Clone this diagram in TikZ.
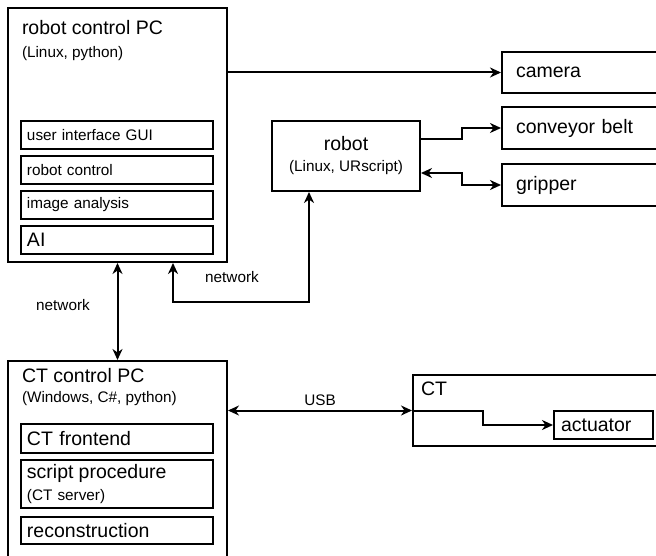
\documentclass[tikz,border=0pt]{standalone}
\usepackage{fontspec}
\setmainfont{Liberation Sans}
\usetikzlibrary{arrows.meta}

\newcommand{\titlefont}{\fontsize{19.5}{22}\selectfont}
\newcommand{\notefont}{\fontsize{15.3}{21}\selectfont}

\tikzset{
  >={Stealth[length=11pt,width=10pt,inset=3.5pt]},
  blk/.style={draw, anchor=north west, inner sep=0pt},
  part/.style={blk, minimum width=192pt, minimum height=28pt, text width=180pt,
    align=left, inner xsep=6pt, font=\notefont},
  dev/.style={blk, minimum height=41pt, text width=170pt, align=left,
    inner xsep=14pt, font=\titlefont},
  head/.style={anchor=base west, inner sep=0pt, font=\titlefont},
  note/.style={inner sep=1pt, font=\notefont}
}

\begin{document}
\begin{tikzpicture}[x=1pt, y=-1pt, line width=2pt]
        \clip (0,0) rectangle (656,556);

        % robot control PC
        \node[blk, minimum width=219pt, minimum height=254pt] (pcR) at (7,7) {};
        \node[head] (pcRt) at (21,35) {robot control PC};
        \node[head, font=\notefont] (pcRs) at (21,58) {(Linux, python)};
        \node[part] (gui) at (20,120) {user interface GUI};
        \node[part] (rctl) at (20,155) {robot control};
        \node[part] (img) at (20,190) {image analysis};
        \node[part, font=\titlefont] (ai) at (20,225) {AI};

        % CT control PC
        \node[blk, minimum width=219pt, minimum height=240pt] (ctpc) at (7,360) {};
        \node[head] (ctpct) at (21,382) {CT control PC};
        \node[head, font=\notefont] (ctpcs) at (21,402) {(Windows, C\#, python)};
        \node[part, font=\titlefont, minimum height=29pt] (front) at (20,423) {CT frontend};
        \node[part, minimum height=48pt] (script) at (20,459)
             {{\titlefont script procedure}\\[1pt]{\notefont (CT server)}};
        \node[part, font=\titlefont, minimum height=27pt] (recon) at (20,516) {reconstruction};

        % robot and its devices
        \node[blk, minimum width=148pt, minimum height=70pt, align=center, font=\notefont] (robot) at (271,120)
             {{\titlefont robot}\\{\notefont (Linux, URscript)}};
        \node[dev] (cam) at (501,51) {camera};
        \node[dev, minimum height=42pt] (belt) at (501,106) {conveyor belt};
        \node[dev, minimum height=42pt] (grip) at (501,163) {gripper};

        % CT
        \node[blk, minimum width=260pt, minimum height=71pt] (ct) at (412,374) {};
        \node[head] (ctt) at (420,395) {CT};
        \node[blk, minimum width=99pt, minimum height=28pt, text width=85pt, align=left,
              inner xsep=7pt, font=\titlefont] (act) at (553,410) {actuator};

        % connections
        \draw[->] (cam.west -| pcR.east) -- (cam.west);
        \draw[->] ([yshift=17pt]robot.east) -- ++(41,0) |- (belt.west);
        \draw[<->] ([yshift=-17pt]robot.east) -- ++(41,0) |- (grip.west);
        \draw[<->] (pcR.south) -- (ctpc.north);
        \draw[<->] ([xshift=-37pt]robot.south) -- ++(0,110) -| ([xshift=55.5pt]pcR.south);
        \draw[<->] (ct.west -| ctpc.east) -- (ct.west) node[note, midway, above=3pt] (usb) {USB};
        \draw[->] (ct.west) -- ++(71,0) |- (act.west);

        % labels
        \node[note] (net1) at (63,305) {network};
        \node[note] (net2) at (232,277) {network};
    \end{tikzpicture}
\end{document}
